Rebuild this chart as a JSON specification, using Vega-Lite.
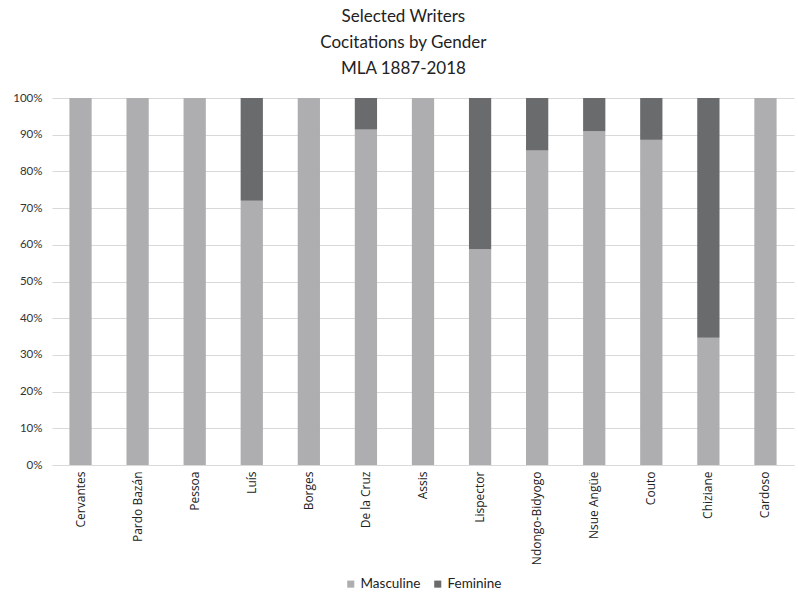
{
  "$schema": "https://vega.github.io/schema/vega-lite/v6.json",
  "width": 742,
  "height": 367,
  "padding": {"left": 12, "top": 8, "right": 1, "bottom": 5},
  "background": "white",
  "title": {
    "text": ["Selected Writers", "Cocitations by Gender", "MLA 1887-2018"],
    "anchor": "middle",
    "frame": "bounds",
    "font": "Lato",
    "fontSize": 17,
    "fontWeight": "normal",
    "lineHeight": 26,
    "color": "#222222",
    "offset": 14
  },
  "data": {
    "values": [
      {"writer": "Cervantes", "gender": "Masculine", "share": 100},
      {"writer": "Cervantes", "gender": "Feminine", "share": 0},
      {"writer": "Pardo Bazán", "gender": "Masculine", "share": 100},
      {"writer": "Pardo Bazán", "gender": "Feminine", "share": 0},
      {"writer": "Pessoa", "gender": "Masculine", "share": 100},
      {"writer": "Pessoa", "gender": "Feminine", "share": 0},
      {"writer": "Luís", "gender": "Masculine", "share": 72},
      {"writer": "Luís", "gender": "Feminine", "share": 28},
      {"writer": "Borges", "gender": "Masculine", "share": 100},
      {"writer": "Borges", "gender": "Feminine", "share": 0},
      {"writer": "De la Cruz", "gender": "Masculine", "share": 91.4},
      {"writer": "De la Cruz", "gender": "Feminine", "share": 8.6},
      {"writer": "Assis", "gender": "Masculine", "share": 100},
      {"writer": "Assis", "gender": "Feminine", "share": 0},
      {"writer": "Lispector", "gender": "Masculine", "share": 58.8},
      {"writer": "Lispector", "gender": "Feminine", "share": 41.2},
      {"writer": "Ndongo-Bidyogo", "gender": "Masculine", "share": 85.7},
      {"writer": "Ndongo-Bidyogo", "gender": "Feminine", "share": 14.3},
      {"writer": "Nsue Angüe", "gender": "Masculine", "share": 90.9},
      {"writer": "Nsue Angüe", "gender": "Feminine", "share": 9.1},
      {"writer": "Couto", "gender": "Masculine", "share": 88.6},
      {"writer": "Couto", "gender": "Feminine", "share": 11.4},
      {"writer": "Chiziane", "gender": "Masculine", "share": 34.7},
      {"writer": "Chiziane", "gender": "Feminine", "share": 65.3},
      {"writer": "Cardoso", "gender": "Masculine", "share": 100},
      {"writer": "Cardoso", "gender": "Feminine", "share": 0}
    ]
  },
  "mark": {"type": "bar"},
  "encoding": {
    "x": {
      "field": "writer",
      "type": "nominal",
      "sort": null,
      "scale": {"paddingInner": 0.61, "paddingOuter": 0.305},
      "axis": {
        "title": null,
        "labelAngle": -90,
        "labelFont": "Open Sans",
        "labelFontSize": 12,
        "labelColor": "#222222",
        "labelPadding": 6,
        "ticks": false,
        "domainColor": "#d9d9d9",
        "grid": false
      }
    },
    "y": {
      "field": "share",
      "type": "quantitative",
      "stack": "normalize",
      "scale": {"domain": [0, 1]},
      "axis": {
        "title": null,
        "format": ".0%",
        "values": [0, 0.1, 0.2, 0.3, 0.4, 0.5, 0.6, 0.7, 0.8, 0.9, 1],
        "labelFont": "Lato",
        "labelFontSize": 11.5,
        "labelColor": "#333333",
        "labelPadding": 10,
        "ticks": false,
        "domain": false,
        "gridColor": "#d9d9d9",
        "gridWidth": 1
      }
    },
    "color": {
      "field": "gender",
      "type": "nominal",
      "scale": {"domain": ["Masculine", "Feminine"], "range": ["#aeaeb0", "#6a6b6d"]},
      "legend": {
        "title": null,
        "orient": "bottom",
        "direction": "horizontal",
        "symbolType": "square",
        "symbolSize": 50,
        "symbolStrokeWidth": 0,
        "labelFont": "Lato",
        "labelFontSize": 13.5,
        "labelColor": "#222222",
        "labelOffset": 3,
        "columnPadding": 10,
        "offset": 12
      }
    },
    "order": {"field": "gender", "sort": "descending"}
  },
  "config": {
    "view": {"stroke": null},
    "legend": {"layout": {"bottom": {"anchor": "middle"}}}
  }
}
